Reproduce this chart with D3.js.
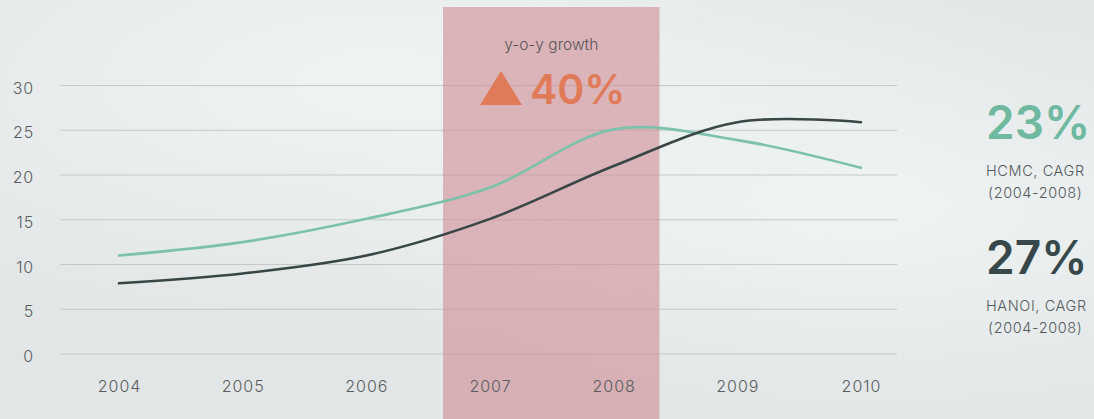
<!DOCTYPE html>
<html><head><meta charset="utf-8">
<script src="https://cdn.jsdelivr.net/npm/d3@7"></script>
<style>
html,body{margin:0;padding:0;background:#e5e9ea;}
svg{display:block;font-family:Inter,"Open Sans",sans-serif;}
</style></head>
<body>
<svg id="chart" width="1094" height="419"></svg>
<script>
const years = [2004, 2005, 2006, 2007, 2008, 2009, 2010];
const hcmc = [11, 12.5, 15.1, 18.6, 25.1, 23.9, 20.8];
const hanoi = [7.9, 9.0, 11.0, 15.1, 21.0, 25.9, 25.9];
const yTicks = [0, 5, 10, 15, 20, 25, 30];
const highlight = [2006.62, 2008.37];

const svg = d3.select("#chart");
const W = 1094, H = 419;

// background
const defs = svg.append("defs");
const g1 = defs.append("radialGradient").attr("id","bg1").attr("cx","0.35").attr("cy","0.2").attr("r","0.6");
g1.append("stop").attr("offset","0").attr("stop-color","#eff3f4");
g1.append("stop").attr("offset","1").attr("stop-color","#e2e6e7");
svg.append("rect").attr("width",W).attr("height",H).attr("fill","url(#bg1)");
const g2 = defs.append("radialGradient").attr("id","bg2").attr("cx","0.8").attr("cy","0.5").attr("r","0.5");
g2.append("stop").attr("offset","0").attr("stop-color","#f1f6f7").attr("stop-opacity",0.8);
g2.append("stop").attr("offset","1").attr("stop-color","#f1f6f7").attr("stop-opacity",0);
svg.append("rect").attr("width",W).attr("height",H).attr("fill","url(#bg2)");

const x = d3.scaleLinear().domain([2004, 2010]).range([119, 861]);
const y = d3.scaleLinear().domain([0, 30]).range([354, 85.5]);

// gridlines
svg.append("g").selectAll("line").data(yTicks).join("line")
  .attr("x1", 60).attr("x2", 897)
  .attr("y1", d => y(d)).attr("y2", d => y(d))
  .attr("stroke", "#c5c9ca").attr("stroke-width", 1);

const labelFont = "Inter,'Open Sans',sans-serif";
// y labels
const yAxis = d3.axisLeft(y).tickValues(yTicks).tickSize(0).tickPadding(0);
const ya = svg.append("g").attr("transform","translate(34,2)").call(yAxis);
ya.select(".domain").remove();
ya.selectAll("text").attr("font-size", 16).attr("fill", "#5a5e60").attr("letter-spacing", 0.8)
  .attr("font-weight", 300)
  .attr("font-family", labelFont).attr("text-anchor","end").attr("dy","0.35em");

// highlight
svg.append("rect")
  .attr("x", x(highlight[0])).attr("width", x(highlight[1]) - x(highlight[0]))
  .attr("y", 7).attr("height", H - 7)
  .attr("fill", "#cf8c92").attr("fill-opacity", 0.6);

// x labels
const xAxis = d3.axisBottom(x).tickValues(years).tickFormat(d3.format("d")).tickSize(0).tickPadding(0);
const xa = svg.append("g").attr("transform","translate(0,386)").call(xAxis);
xa.select(".domain").remove();
xa.selectAll("text").attr("font-size", 16).attr("fill", "#5a5e60").attr("letter-spacing", 1)
  .attr("font-weight", 300)
  .attr("font-family", labelFont).attr("dy","0.35em");

// lines
const line = d3.line().x((d,i) => x(years[i])).y(d => y(d)).curve(d3.curveCatmullRom.alpha(0.5));
svg.append("path").datum(hcmc).attr("d", line).attr("fill","none")
  .attr("stroke","#7cc1a9").attr("stroke-width",2.6).attr("stroke-linecap","round");
svg.append("path").datum(hanoi).attr("d", line).attr("fill","none")
  .attr("stroke","#394646").attr("stroke-width",2.6).attr("stroke-linecap","round");

// highlight annotation
const cx = (x(highlight[0]) + x(highlight[1])) / 2;
svg.append("text").attr("x", cx).attr("y", 50).attr("text-anchor","middle")
  .attr("font-size", 15.5).attr("fill","#5a5556").attr("font-weight", 300).text("y-o-y growth");
svg.append("path").attr("d","M480,105 L501,71 L522,105 Z").attr("fill","#e07a58");
svg.append("text").attr("x", 530).attr("y", 104).attr("font-size", 41).attr("font-weight", 600)
  .attr("fill","#e07a58").text("40%");

// right annotations
const ann = [
  {big:"23%", color:"#6fb9a0", l1:"HCMC, CAGR", l2:"(2004-2008)", yb:139},
  {big:"27%", color:"#37474a", l1:"HANOI, CAGR", l2:"(2004-2008)", yb:274}
];
ann.forEach(a => {
  svg.append("text").attr("x", 986).attr("y", a.yb).attr("font-size", 46).attr("font-weight", 600)
    .attr("fill", a.color).text(a.big);
  svg.append("text").attr("x", 986).attr("y", a.yb + 37).attr("font-size", 14.5).attr("letter-spacing", 0.6)
    .attr("font-weight", 300).attr("fill","#555a5c").text(a.l1);
  svg.append("text").attr("x", 988).attr("y", a.yb + 59).attr("font-size", 14.5).attr("letter-spacing", 0.6)
    .attr("font-weight", 300).attr("fill","#555a5c").text(a.l2);
});
</script>
</body></html>
